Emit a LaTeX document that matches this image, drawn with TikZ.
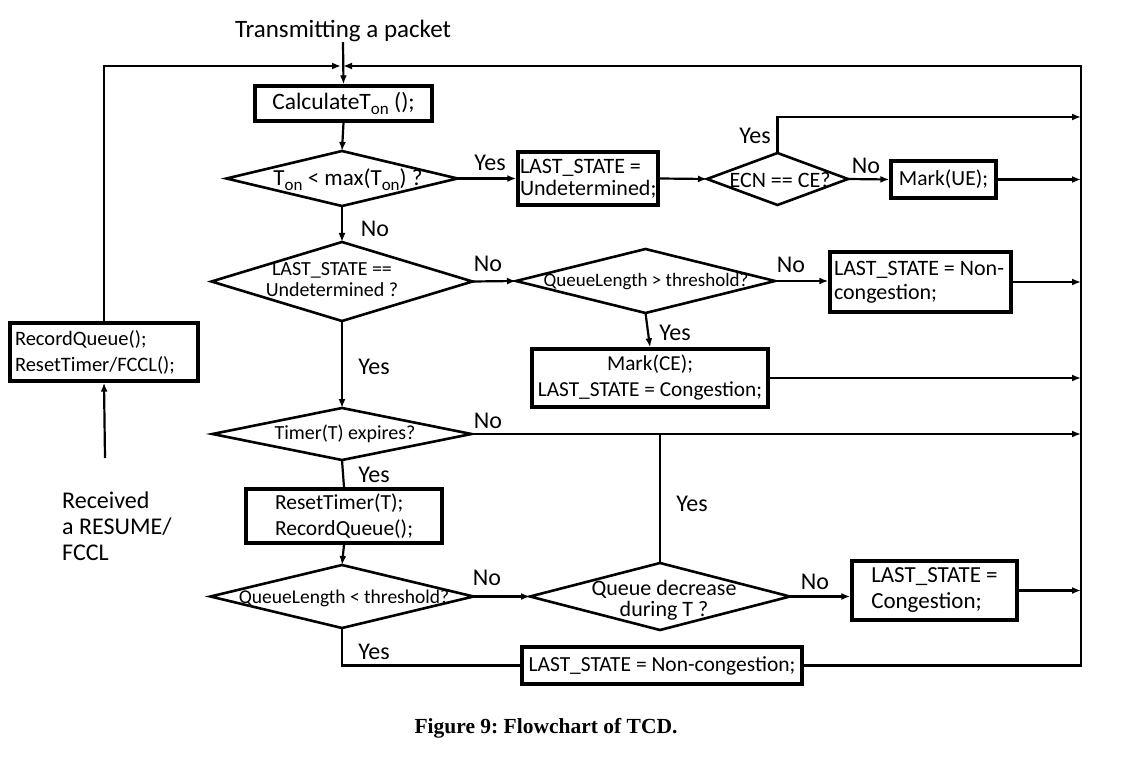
\documentclass[tikz,border=0pt]{standalone}
\usepackage{fontspec}
\setmainfont{Carlito}
\newfontfamily\capfont{Liberation Serif}
\usetikzlibrary{shapes.geometric,arrows.meta}
\newcommand\Ton{T\raisebox{-5pt}{\fontsize{17}{17}\selectfont on}}
\newcommand\fs[2]{\fontsize{#1}{#2}\selectfont}
\begin{document}
\begin{tikzpicture}[x=1pt,y=-1pt,
  box/.style={draw, line width=3.4pt, rectangle, inner sep=4pt, font=\fs{22}{26}},
  dia/.style={draw, diamond, line width=2.6pt, inner sep=0pt, outer sep=0pt},
  dtext/.style={align=center, inner sep=0pt},
  lbl/.style={font=\fs{24}{26}, inner sep=0pt},
  ln/.style={line width=2.2pt},
  arr/.style={ln, -{Latex[length=9pt,width=7pt]}}]
\useasboundingbox (0,0) rectangle (1127,762);

% top text and junction
\node[lbl, font=\fs{25}{28}] (tx) at (343,31) {Transmitting a packet};
\coordinate (j) at (342,66);
\coordinate (tr) at (1081,66);

% boxes
\node[box, minimum width=177, minimum height=35, font=\fs{23.5}{26}] (calc) at (343.5,103.5) {Calculate\Ton\ ();};
\node[box, minimum width=140, minimum height=53, text width=136, align=flush left, inner sep=2pt, font=\fs{22}{22}] (und) at (588,178.5) {LAST\_STATE =\\Undetermined;};
\node[box, minimum width=105, minimum height=37, font=\fs{21.5}{24}] (mue) at (943.5,179.5) {Mark(UE);};
\node[box, minimum width=181, minimum height=60, text width=173, align=flush left, inner sep=4pt, font=\fs{22}{24}] (nonc1) at (920.5,282) {LAST\_STATE = Non-\\congestion;};
\node[box, minimum width=236, minimum height=58, align=center, inner sep=2pt, font=\fs{21.3}{26}] (markce) at (650,378) {Mark(CE);\\LAST\_STATE = Congestion;};
\node[box, minimum width=196, minimum height=54, align=flush left, inner sep=2pt, font=\fs{21.5}{26}] (reset) at (344,516) {ResetTimer(T);\\RecordQueue();};
\node[box, minimum width=165, minimum height=59, align=flush left, inner sep=2pt, font=\fs{23}{26}] (cong) at (934.5,590.5) {LAST\_STATE =\\Congestion;};
\node[box, minimum width=280, minimum height=37, font=\fs{21.5}{24}] (nonc2) at (662,665.5) {LAST\_STATE = Non-congestion;};
\node[box, minimum width=188, minimum height=58, text width=178, align=flush left, inner sep=5pt, font=\fs{20.5}{26}] (rq) at (104,352) {RecordQueue();\\ResetTimer/FCCL();};

% diamonds
\node[dia, minimum width=231, minimum height=55] (d1) at (342,178.5) {};
\node[dtext, font=\fs{23}{26}] at (348,180) {\Ton\ {\textless} max(\Ton) ?};
\node[dia, minimum width=141, minimum height=52] (ecn) at (777.5,179) {};
\node[dtext, font=\fs{22}{26}] at (780,180) {ECN == CE?};
\node[dia, minimum width=261, minimum height=79] (d2) at (342,281.5) {};
\node[dtext, font=\fs{20}{21}] at (332,280) {LAST\_STATE ==\\Undetermined ?};
\node[dia, minimum width=259, minimum height=64] (d3) at (645.5,281) {};
\node[dtext, font=\fs{19}{22}] at (646,282) {QueueLength {\textgreater} threshold?};
\node[dia, minimum width=259, minimum height=52] (d4) at (342,434) {};
\node[dtext, font=\fs{20}{24}] at (345,434) {Timer(T) expires?};
\node[dia, minimum width=263, minimum height=63] (d5) at (342,596.5) {};
\node[dtext, font=\fs{19.5}{22}] at (344,598) {QueueLength {\textless} threshold?};
\node[dia, minimum width=260, minimum height=67] (d6) at (660,596.5) {};
\node[dtext, font=\fs{22}{21}] at (664,600) {Queue decrease\\during T ?};

% left text
\node[lbl, anchor=west, align=flush left, font=\fs{24}{26}] (rcv) at (62,526) {Received\\a RESUME/\\FCCL};
\coordinate (rs) at (105,458);
\coordinate (ey) at (1081,117);

% connectors
\draw[arr] (tx.south) -- (calc.north);
\draw[arr] (rq.north) |- ([xshift=-1pt]j);
\draw[arr] (nonc2.east) -| (tr) -- ([xshift=1pt]j);
\draw[arr] (calc.south) -- (d1.north);
\draw[arr] (d1.east) -- (und.west);
\draw[arr] (und.east) -- (ecn.west);
\draw[arr] (ecn.north) |- (ey);
\draw[arr] (ecn.east) -- (mue.west);
\draw[arr] (mue.east) -- (mue.east -| tr);
\draw[arr] (d1.south) -- (d2.north);
\draw[arr] (d2.east) -- (d3.west);
\draw[arr] (d3.east) -- (nonc1.west |- d3.east);
\draw[arr] (nonc1.east) -- (nonc1.east -| tr);
\draw[arr] (d3.south) -- (markce.north);
\draw[arr] (markce.east) -- (markce.east -| tr);
\draw[arr] (d2.south) -- (d4.north);
\draw[arr] (d4.east) -- (d4.east -| tr);
\draw[ln] (d4.south) -- (reset.north);
\draw[arr] (reset.south) -- (d5.north);
\draw[arr] (d5.east) -- (d6.west);
\draw[ln] (d6.north) -- (d6.north |- d4.east);
\draw[arr] (d6.east) -- (cong.west |- d6.east);
\draw[arr] (cong.east) -- (cong.east -| tr);
\draw[ln] (d5.south) |- (nonc2.west);
\draw[arr] (rs) -- (rq.south);

% labels
\node[lbl] at (490,163) {Yes};
\node[lbl] at (755,136) {Yes};
\node[lbl] at (866,166) {No};
\node[lbl] at (375,229) {No};
\node[lbl] at (488,264) {No};
\node[lbl] at (791,265) {No};
\node[lbl] at (675,333) {Yes};
\node[lbl] at (374,367) {Yes};
\node[lbl] at (488,421) {No};
\node[lbl] at (374,475) {Yes};
\node[lbl] at (692,504) {Yes};
\node[lbl] at (487,578) {No};
\node[lbl] at (815,582) {No};
\node[lbl] at (374,652) {Yes};

% caption
\node[font=\capfont\bfseries\fs{21.5}{24}] (cap) at (546,728) {\frenchspacing Figure 9: Flowchart of TCD.};
\end{tikzpicture}
\end{document}
